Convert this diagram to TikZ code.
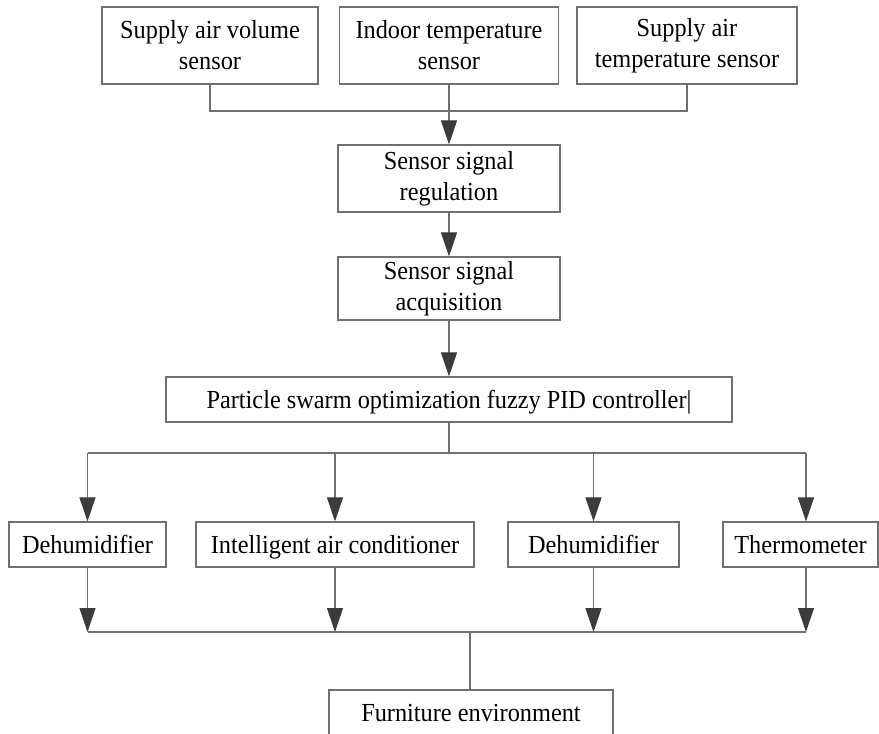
\documentclass[tikz,border=0pt]{standalone}
\usepackage{fontspec}
\setmainfont[FakeStretch=0.935]{Liberation Serif}
\usetikzlibrary{arrows.meta,calc}

\definecolor{linegray}{RGB}{112,112,112}
\definecolor{tipgray}{RGB}{60,60,60}

\tikzset{
  box/.style={draw=linegray, line width=1.2pt, fill=white, inner sep=0pt,
              align=center, minimum height=45pt,
              font=\fontsize{26pt}{31pt}\selectfont},
  onerow/.style={box, text height=17pt, text depth=0pt},
  wire/.style={draw=linegray, line width=1.1pt},
  flow/.style={wire, -{Triangle[length=24pt,width=16pt,fill=tipgray,color=tipgray]}},
}

\begin{document}
\begin{tikzpicture}[x=1pt, y=-1pt]
\useasboundingbox (0,0) rectangle (879,734);

% sensors
\node[box, minimum width=216pt, minimum height=77pt] (s1) at (210,45.5) {Supply air volume\\sensor};
\node[box, minimum width=219pt, minimum height=77pt] (s2) at (449,45.5) {Indoor temperature\\sensor};
\node[box, minimum width=220pt, minimum height=77pt] (s3) at (687,45.5) {Supply air\\temperature sensor};

% signal chain
\node[box, minimum width=222pt, minimum height=67pt] (reg) at (449,178.5) {Sensor signal\\regulation};
\node[box, minimum width=222pt, minimum height=63pt] (acq) at (449,288.5) {Sensor signal\\acquisition};
\node[onerow, minimum width=566pt] (pso) at (449,399.5) {Particle swarm optimization fuzzy PID controller|};

% actuators
\node[onerow, minimum width=157pt] (d1) at (87.5,544.5) {Dehumidifier};
\node[onerow, minimum width=278pt] (ac) at (335,544.5) {Intelligent air conditioner};
\node[onerow, minimum width=171pt] (d2) at (593.5,544.5) {Dehumidifier};
\node[onerow, minimum width=155pt] (th) at (800.5,544.5) {Thermometer};

% plant
\node[onerow, minimum width=284pt, minimum height=46pt] (fe) at (471,713) {Furniture environment};

% junction points
\coordinate (bus1) at (449,111);
\coordinate (bus2) at (449,453);
\coordinate (bus3) at (470,632);
\coordinate (thx) at (806,0);

% sensors merge into the regulation stage
\draw[wire] (s1.south) |- (bus1) -| (s3.south);
\draw[wire] (s2.south) -- (bus1);
\draw[flow] (bus1) -- (reg.north);
\draw[flow] (reg.south) -- (acq.north);
\draw[flow] (acq.south) -- (pso.north);

% controller fans out to the actuators
\draw[wire] (pso.south) -- (bus2);
\draw[wire] (d1.north |- bus2) -- (thx |- bus2);
\draw[flow] (d1.north |- bus2) -- (d1.north);
\draw[flow] (ac.north |- bus2) -- (ac.north);
\draw[flow] (d2.north |- bus2) -- (d2.north);
\draw[flow] (thx |- bus2) -- (thx |- th.north);

% actuators act on the environment
\draw[flow] (d1.south) -- (d1.south |- bus3);
\draw[flow] (ac.south) -- (ac.south |- bus3);
\draw[flow] (d2.south) -- (d2.south |- bus3);
\draw[flow] (thx |- th.south) -- (thx |- bus3);
\draw[wire] (d1.south |- bus3) -- (thx |- bus3);
\draw[wire] (bus3) -- (bus3 |- fe.north);
\end{tikzpicture}
\end{document}
